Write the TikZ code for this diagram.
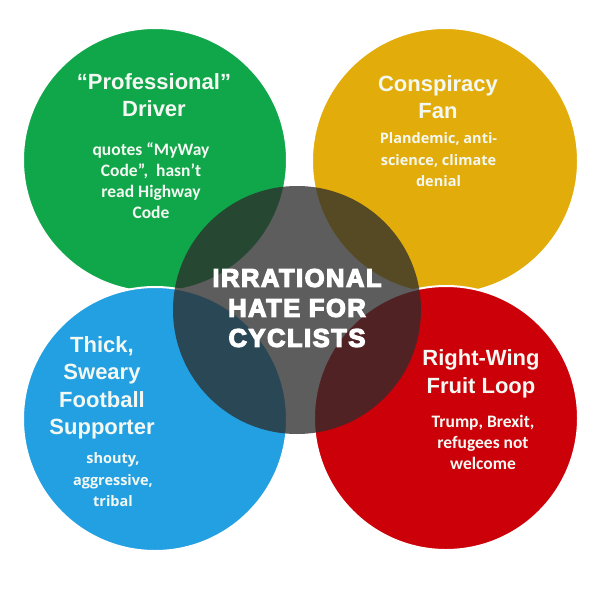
\documentclass[tikz,border=0pt]{standalone}
\usepackage{fontspec}
\setmainfont{Liberation Sans}
\newfontfamily\descfont{Carlito}
\newfontfamily\widefont{Open Sans}
\newfontfamily\heavyfont[BoldFeatures={FakeBold=5}, LetterSpace=6]{Liberation Sans}
\definecolor{cgreen}{RGB}{16,166,74}
\definecolor{cyellow}{RGB}{226,172,10}
\definecolor{cblue}{RGB}{35,160,226}
\definecolor{cred}{RGB}{204,0,8}
\definecolor{cgray}{RGB}{45,45,45}
\definecolor{ctext}{RGB}{244,248,242}
\tikzset{
  blob/.style={circle, draw=white, line width=2pt, minimum size=#1, inner sep=0pt},
  hub/.style={circle, fill=cgray, fill opacity=0.77, minimum size=248pt, inner sep=0pt},
  ttl/.style={align=center, text=ctext, inner sep=0pt, font=\bfseries\fontsize{22}{27.5}\selectfont},
  desc/.style={align=center, text=ctext, inner sep=0pt, font=\descfont\bfseries\fontsize{17.5}{21}\selectfont},
  descw/.style={align=center, text=ctext, inner sep=0pt, font=\widefont\bfseries\fontsize{14.5}{21.5}\selectfont},
  hubtext/.style={align=center, text=white, inner sep=0pt, font=\heavyfont\bfseries\fontsize{25.5}{30}\selectfont}
}
\begin{document}
\begin{tikzpicture}[x=1pt,y=-1pt]
\useasboundingbox (0,0) rectangle (602,602);
\fill[white] (0,0) rectangle (602,602);
\node[blob=264pt, fill=cgreen] (green) at (155,160) {};
\node[blob=266pt, fill=cyellow] (yellow) at (445,161) {};
\node[blob=264pt, fill=cblue] (blue) at (155,419) {};
\node[blob=264pt, fill=cred] (red) at (446,418) {};
\node[hub] (hub) at (297,310) {};
\node[ttl] (gt) at (154,95) {“Professional”\\Driver};
\node[desc] (gd) at (151,181) {quotes “MyWay\\Code”,\ \ hasn’t\\read Highway\\Code};
\node[ttl] (yt) at (438,97) {Conspiracy\\Fan};
\node[descw] (yd) at (438.5,160) {Plandemic, anti-\\science, climate\\denial};
\node[ttl] (bt) at (102,388) {Thick,\\Sweary\\Football\\Supporter};
\node[descw] (bd) at (113,480) {shouty,\\aggressive,\\tribal};
\node[ttl] (rt) at (481,374) {Right-Wing\\Fruit Loop};
\node[desc] (rd) at (483,442) {Trump, Brexit,\\refugees not\\welcome};
\node[hubtext] (ht) at (297,308) {IRRATIONAL\\HATE FOR\\CYCLISTS};
\end{tikzpicture}
\end{document}
